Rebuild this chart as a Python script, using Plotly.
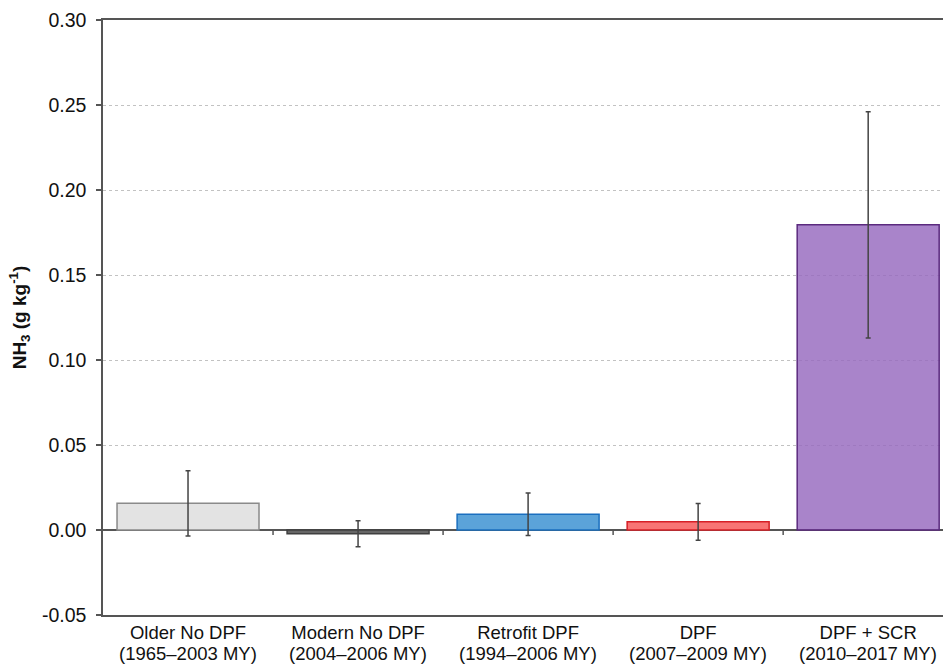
import plotly.graph_objects as go

# NH3 emission factors by diesel truck technology group
group_names = ["Older No DPF", "Modern No DPF", "Retrofit DPF", "DPF", "DPF + SCR"]
model_years = ["(1965–2003 MY)", "(2004–2006 MY)", "(1994–2006 MY)",
               "(2007–2009 MY)", "(2010–2017 MY)"]
nh3_mean = [0.0157, -0.0022, 0.0093, 0.0048, 0.1795]
nh3_err = [0.0192, 0.0076, 0.0125, 0.0108, 0.0665]

fill_colors = ["#e3e3e3", "#666666", "#5ba3d9", "#f87474", "rgba(150,105,190,0.82)"]
line_colors = ["#8a8a8a", "#3f3f3f", "#1a6fbf", "#d61f26", "#5b2a7e"]

y_ticks = [-0.05, 0.00, 0.05, 0.10, 0.15, 0.20, 0.25, 0.30]

x_idx = list(range(len(group_names)))
font_family = "Liberation Sans, Arial, Helvetica, sans-serif"
fs = 19.5
fs_x = 18.5

fig = go.Figure()
fig.add_trace(go.Bar(
    x=x_idx,
    y=nh3_mean,
    marker=dict(color=fill_colors, line=dict(color=line_colors, width=1.5)),
    error_y=dict(type="data", array=nh3_err, visible=True,
                 color="#444444", thickness=1.5, width=2.5),
    width=0.835,
    showlegend=False,
))

# small category separator ticks hanging below the zero line
for i in range(len(group_names) - 1):
    fig.add_shape(type="line", x0=i + 0.5, x1=i + 0.5, y0=0, y1=-0.003,
                  line=dict(color="#555555", width=1.5), layer="above")

# second line of each category label (model-year range), set tight under the name
for i, yr in enumerate(model_years):
    fig.add_annotation(x=i, xref="x", y=-0.0655, yref="paper",
                       text=yr, showarrow=False, yanchor="middle",
                       font=dict(size=fs_x, family=font_family, color="#111111"))

fig.update_layout(
    width=943, height=665,
    margin=dict(l=103, r=0, t=20, b=50),
    plot_bgcolor="white",
    paper_bgcolor="white",
    font=dict(family=font_family, size=fs, color="#111111"),
    xaxis=dict(
        range=[-0.5, 4.44],
        tickmode="array",
        tickvals=x_idx,
        ticktext=group_names,
        showline=True, linecolor="#555555", linewidth=1.5, mirror=True,
        ticks="", showgrid=False, zeroline=False,
        tickfont=dict(size=fs_x),
        ticklabelstandoff=0,
        automargin=False,
    ),
    yaxis=dict(
        range=[-0.05, 0.30],
        tickmode="array",
        tickvals=y_ticks,
        ticktext=[f"{v:.2f}" for v in y_ticks],
        showline=True, linecolor="#555555", linewidth=1.5,
        ticks="outside", ticklen=5, tickcolor="#555555", tickwidth=1.5,
        ticklabelstandoff=6,
        showgrid=True, gridcolor="#c2c2c2", griddash="dot", gridwidth=1,
        zeroline=True, zerolinecolor="#555555", zerolinewidth=1.5,
        tickfont=dict(size=fs),
        automargin=False,
        title=dict(text="<b>NH<sub>3</sub> (g kg<sup>-1</sup>)</b>",
                   font=dict(size=19), standoff=10),
    ),
)

fig.write_html("out.html")
